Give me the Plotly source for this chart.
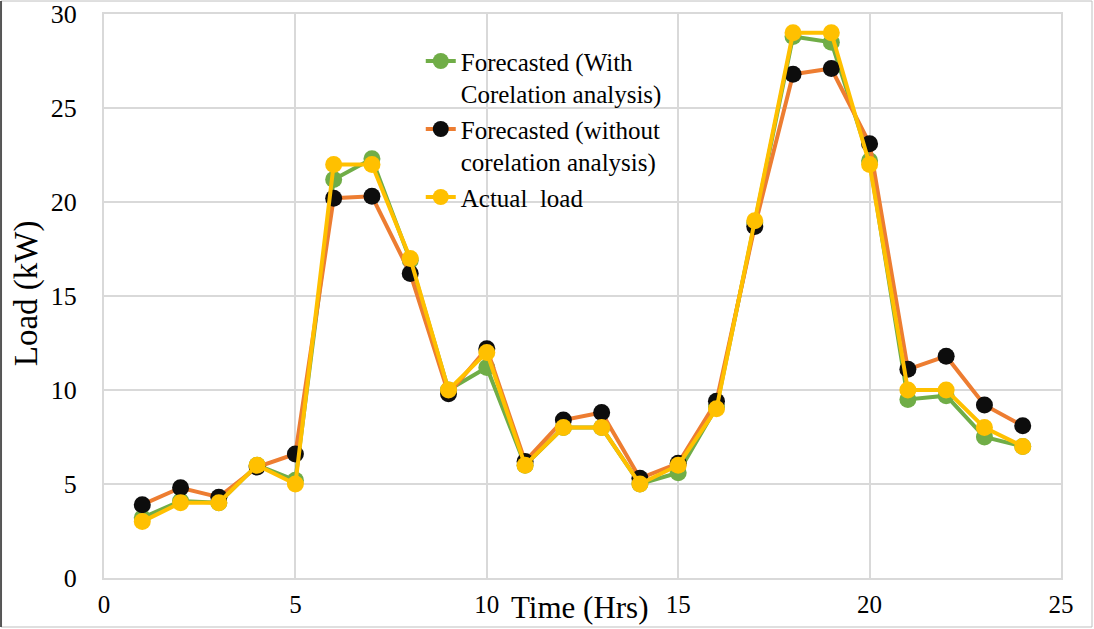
import plotly.graph_objects as go

hours = list(range(1, 25))
actual = [3, 4, 4, 6, 5, 22, 22, 17, 10, 12, 6, 8, 8, 5, 6, 9, 19, 29, 29, 22, 10, 10, 8, 7]
fc_without = [3.9, 4.8, 4.3, 5.9, 6.6, 20.2, 20.3, 16.2, 9.8, 12.2, 6.2, 8.4, 8.8, 5.3, 6.1, 9.4,
              18.7, 26.8, 27.1, 23.1, 11.1, 11.8, 9.2, 8.1]
fc_with = [3.2, 4.1, 4.0, 6.0, 5.2, 21.2, 22.3, 16.9, 10.0, 11.2, 6.0, 8.0, 8.0, 5.0, 5.6, 9.1,
           18.9, 28.8, 28.5, 22.2, 9.5, 9.7, 7.5, 7.0]

font = "Liberation Serif"
fig = go.Figure()
fig.add_trace(go.Scatter(x=hours, y=fc_with, mode="lines+markers",
                         name="Forecasted (With<br>Corelation analysis)",
                         line=dict(color="#70AD47", width=4),
                         marker=dict(color="#70AD47", size=17)))
fig.add_trace(go.Scatter(x=hours, y=fc_without, mode="lines+markers",
                         name="Forecasted (without<br>corelation analysis)",
                         line=dict(color="#ED7D31", width=4),
                         marker=dict(color="#0d0d0d", size=17)))
fig.add_trace(go.Scatter(x=hours, y=actual, mode="lines+markers",
                         name="Actual  load",
                         line=dict(color="#FFC000", width=4),
                         marker=dict(color="#FFC000", size=17)))

fig.update_layout(
    width=1094, height=629,
    margin=dict(l=104, r=33, t=14, b=51),
    paper_bgcolor="white", plot_bgcolor="white",
    font=dict(family=font, size=26, color="black"),
    showlegend=True,
    legend=dict(x=0.331, y=0.957, xanchor="left", yanchor="top",
                bgcolor="rgba(0,0,0,0)", font=dict(family=font, size=25),
                valign="top", tracegroupgap=0),
    xaxis=dict(range=[0, 25], dtick=5, tick0=0, showgrid=True, gridcolor="#d9d9d9",
               gridwidth=2, zeroline=False, showline=True, linecolor="#d9d9d9", linewidth=2,
               mirror=True, ticks="", ticklabelstandoff=3, automargin=False,
               tickfont=dict(family=font, size=25)),
    yaxis=dict(range=[0, 30], dtick=5, tick0=0, showgrid=True, gridcolor="#d9d9d9",
               gridwidth=2, zeroline=False, showline=True, linecolor="#d9d9d9", linewidth=2,
               mirror=True, ticks="", ticklabelstandoff=20, automargin=False),
    annotations=[
        dict(text="Time (Hrs)", xref="paper", yref="paper", x=0.497, y=-0.053,
             xanchor="center", yanchor="middle", showarrow=False,
             font=dict(family=font, size=31)),
        dict(text="Load (kW)", xref="paper", yref="paper", x=-0.0815, y=0.505,
             xanchor="center", yanchor="middle", showarrow=False, textangle=-90,
             font=dict(family=font, size=33)),
    ],
    shapes=[
        dict(type="rect", xref="paper", yref="paper", x0=-0.1076, x1=1.0324, y0=-0.0869, y1=1.023,
             line=dict(color="#bfbfbf", width=1)),
        dict(type="line", xref="paper", yref="paper", x0=-0.1076, x1=-0.1076, y0=-0.0869, y1=1.023,
             line=dict(color="#555555", width=2)),
    ],
)

fig.write_html("out.html")
